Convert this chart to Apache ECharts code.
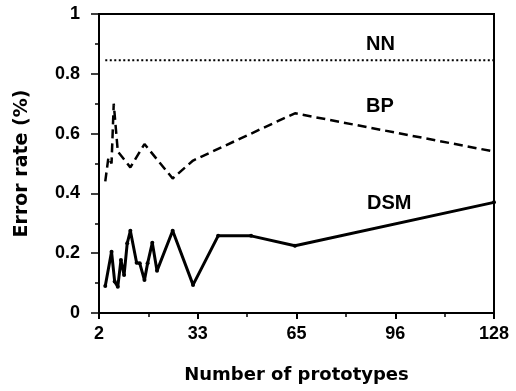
<!DOCTYPE html>
<html><head><meta charset="utf-8">
<script src="https://cdn.jsdelivr.net/npm/echarts@6/dist/echarts.min.js"></script>
<style>html,body{margin:0;padding:0;background:#fff}#c{width:516px;height:391px}</style>
</head><body><div id="c"></div>
<script>
// x axis: number of prototypes
const xTickLabels = ['2', '33', '65', '96', '128'];
const xMin = 2, xMax = 128;
const yTickLabels = ['0', '0.2', '0.4', '0.6', '0.8', '1'];

// DSM (solid)
const dsmX = [4, 6, 7, 8, 9, 10, 11, 12, 14, 15, 16.5, 17.5, 19, 20.5, 25.5, 32, 40, 50.5, 64.5, 128];
const dsmY = [0.09, 0.205, 0.105, 0.088, 0.177, 0.127, 0.233, 0.275, 0.168, 0.166, 0.11, 0.166, 0.235, 0.141, 0.275, 0.094, 0.258, 0.258, 0.225, 0.37];

// BP (dashed)
const bpX = [4, 5, 6, 6.7, 8, 12, 16.5, 25.5, 32, 64.5, 128];
const bpY = [0.44, 0.52, 0.5, 0.70, 0.54, 0.487, 0.565, 0.45, 0.51, 0.668, 0.54];

// NN (dotted)
const nnX = [4, 128];
const nnY = [0.845, 0.845];

const seriesNames = ['NN', 'BP', 'DSM'];

const shift = x => x - xMin;
const pairs = (xs, ys) => xs.map((x, i) => [shift(x), ys[i]]);

const chart = echarts.init(document.getElementById('c'), null, {renderer: 'canvas'});
const tickFont = {fontFamily: 'Liberation Sans', fontWeight: 'bold', fontSize: 18, color: '#000'};
chart.setOption({
  animation: false,
  backgroundColor: '#fff',
  grid: {left: 99, right: 22, top: 14, bottom: 78, show: true, borderColor: '#000', borderWidth: 2},
  xAxis: {
    type: 'value', min: 0, max: xMax - xMin, interval: (xMax - xMin) / 4,
    axisLine: {lineStyle: {color: '#000', width: 2}},
    axisTick: {inside: false, length: 6, lineStyle: {color: '#000', width: 2}},
    minorTick: {show: true, splitNumber: 2, length: 4, lineStyle: {color: '#000', width: 1.5}},
    splitLine: {show: false},
    axisLabel: Object.assign({margin: 12, formatter: (v) => {
      const i = Math.round(v / ((xMax - xMin) / 4));
      return xTickLabels[i] || '';
    }}, tickFont),
    name: 'Number of prototypes', nameLocation: 'middle', nameGap: 53,
    nameTextStyle: {fontFamily: 'DejaVu Sans', fontWeight: 'bold', fontSize: 18, color: '#000'}
  },
  yAxis: {
    type: 'value', min: 0, max: 1, interval: 0.2,
    axisLine: {lineStyle: {color: '#000', width: 2}},
    axisTick: {inside: false, length: 8, lineStyle: {color: '#000', width: 1.5}},
    minorTick: {show: true, splitNumber: 2, length: 4, lineStyle: {color: '#000', width: 1.5}},
    splitLine: {show: false},
    axisLabel: Object.assign({margin: 19, formatter: (v) => yTickLabels[Math.round(v / 0.2)] || ''}, tickFont),
    name: 'Error rate (%)', nameLocation: 'middle', nameGap: 67,
    nameTextStyle: {fontFamily: 'DejaVu Sans', fontWeight: 'bold', fontSize: 19, color: '#000'}
  },
  series: [
    {name: seriesNames[0], type: 'line', data: pairs(nnX, nnY), symbol: 'none',
     lineStyle: {color: '#000', width: 2, type: [2, 2.5]}},
    {name: seriesNames[1], type: 'line', data: pairs(bpX, bpY), symbol: 'none',
     lineStyle: {color: '#000', width: 2.5, type: [9, 5]}},
    {name: seriesNames[2], type: 'line', data: pairs(dsmX, dsmY), symbol: 'circle', symbolSize: 4,
     itemStyle: {color: '#000'}, lineStyle: {color: '#000', width: 3}}
  ],
  graphic: [
    {type: 'text', left: 366, top: 34, style: {text: seriesNames[0], font: 'bold 20px "Liberation Sans"', fill: '#000'}},
    {type: 'text', left: 366, top: 96, style: {text: seriesNames[1], font: 'bold 20px "Liberation Sans"', fill: '#000'}},
    {type: 'text', left: 367, top: 193, style: {text: seriesNames[2], font: 'bold 20px "Liberation Sans"', fill: '#000'}}
  ]
});
</script>
</body></html>
